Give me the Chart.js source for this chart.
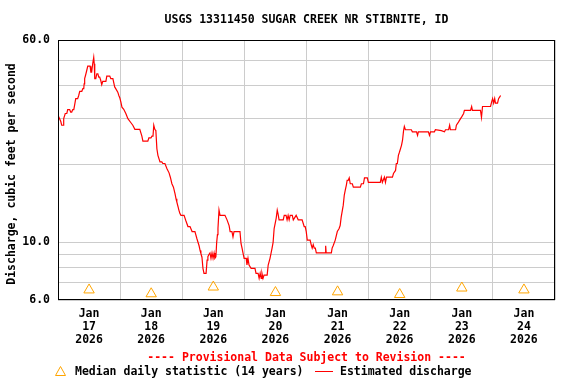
<!DOCTYPE html>
<html>
<head>
<meta charset="utf-8">
<script src="https://cdn.jsdelivr.net/npm/chart.js@4.4.1/dist/chart.umd.min.js"></script>
<style>
  html, body { margin: 0; padding: 0; background: #fff; }
</style>
</head>
<body>
<canvas id="grafica" width="576" height="384"></canvas>
<script>
const titulo = 'USGS 13311450 SUGAR CREEK NR STIBNITE, ID';
const aviso = '---- Provisional Data Subject to Revision ----';
const tituloY = 'Discharge, cubic feet per second';

// x axis: hours from Jan 17 00:00
const mes = 'Jan';
const anio = '2026';
const dias = ['17', '18', '19', '20', '21', '22', '23', '24'];

// y axis (log)
const marcasY = [6, 7, 8, 9, 10, 20, 30, 40, 50, 60];
const etiquetasY = [6, 10, 60];

// median daily statistic, one per day at noon
const horasMediana = [12, 36, 60, 84, 108, 132, 156, 180];
const mediana = [6.56, 6.34, 6.73, 6.41, 6.45, 6.30, 6.67, 6.56];

// estimated discharge
const horas = [
  0, 1.05, 1.43, 2.0, 2.2, 2.8, 3.4, 3.75, 4.5, 4.9, 5.3, 5.7, 6.1, 6.5, 6.85, 7.6, 8.0, 8.4, 9.2, 9.6,
  9.95, 10.1, 10.3, 10.7, 11.1, 11.5, 12.4, 12.7, 13.0, 13.4, 13.8, 14.0, 14.2, 14.6, 15.0, 15.4, 15.75,
  16.1, 16.5, 16.9, 17.3, 17.7, 18.5, 18.85, 20.0, 20.4, 21.2, 21.9, 22.3, 23.1, 23.5, 23.9,
  24.3, 24.7, 25.4, 26.2, 27.0, 28.1, 28.9, 29.7, 31.6, 32.4, 32.8, 34.7, 35.1, 35.9, 36.3, 36.7, 37.0,
  37.4, 37.8, 38.2, 38.6, 39.4, 40.1, 40.5, 41.3, 42.1, 42.9, 43.4, 44.0, 44.6, 45.2, 45.6, 45.9, 46.3,
  46.7, 47.1, 47.5,
  48.7, 49.4, 50.2, 51.0, 51.8, 52.9, 53.7, 54.5, 54.9, 55.2, 55.6, 56.0, 56.4, 57.2, 57.6, 57.9, 58.3,
  58.7, 59.1, 59.5, 59.9, 60.3, 60.6, 61.0, 61.3, 61.6, 61.8, 62.2, 62.6, 64.5, 65.3, 66.1, 66.5, 67.2,
  67.6, 68.0, 70.3, 70.7, 71.1, 71.5, 71.9,
  72.7, 73.0, 73.4, 73.8, 74.6, 76.1, 76.5, 77.3, 77.7, 78.1, 78.5, 78.8, 79.2, 79.6, 80.8, 81.2, 81.9,
  82.7, 83.1, 83.5, 84.3, 84.7, 85.0, 85.4, 87.0, 87.4, 88.1, 88.5, 88.9, 89.3, 89.7, 90.5, 90.9, 92.0,
  92.8, 94.3, 95.1, 95.5, 95.9,
  96.3, 97.4, 97.8, 98.2, 98.6, 99.0, 99.4, 99.8, 103.2, 103.4, 103.6, 105.6, 105.9, 106.3, 107.1, 107.9,
  108.6, 109.0, 109.4, 110.2, 110.6, 111.0, 111.4, 111.7, 112.1, 112.5, 112.9, 113.7, 114.1, 116.8, 117.2,
  118.0, 118.4, 119.5, 119.9,
  124.5, 124.9, 125.3, 126.1, 126.5, 126.9, 129.2, 129.6, 130.4, 130.7, 131.1, 131.5, 131.9, 132.7, 133.1,
  133.5, 133.8, 134.2, 136.5, 136.9, 138.5, 138.9, 139.2, 143.1, 143.5, 143.9,
  145.4, 145.8, 148.1, 149.3, 149.7, 150.9, 151.3, 151.6, 153.6, 153.9, 154.7, 155.5, 155.9, 156.7, 157.0,
  159.4, 159.8, 160.1, 163.2, 163.6, 164.0, 167.1, 167.5,
  167.9, 168.3, 168.7, 169.0, 169.8, 170.2, 170.6, 171.0
];
const caudal = [
  30.8, 29.2, 28.2, 28.2, 29.9, 31.3, 31.3, 32.4, 32.4, 31.7, 31.7, 32.4, 32.4, 34.1, 35.7, 35.7, 36.7, 38.1, 38.1, 39.0,
  39.0, 40.7, 42.6, 44.1, 45.8, 47.6, 47.6, 45.1, 45.1, 48.6, 51.5, 48.6, 42.6, 42.6, 44.5, 44.5, 43.2,
  43.2, 42.0, 40.4, 41.6, 41.6, 41.6, 43.6, 43.6, 42.6, 42.6, 39.6, 39.0, 37.8, 36.7, 35.9,
  34.6, 33.1, 32.5, 31.3, 29.9, 28.9, 28.2, 27.2, 27.2, 25.6, 24.5, 24.5, 25.2, 25.2, 25.6, 25.6, 28.2,
  27.2, 26.9, 22.9, 21.6, 20.4, 20.4, 20.1, 20.1, 19.2, 18.5, 17.8, 16.8, 16.3, 15.4, 14.7, 14.3, 13.8,
  13.3, 12.9, 12.7,
  12.7, 12.1, 11.5, 11.5, 11.0, 11.0, 10.3, 9.7, 9.3, 9.06, 8.80, 7.94, 7.60, 7.60, 8.54, 8.80, 8.98,
  9.1, 8.68, 9.1, 8.68, 9.1, 8.68, 8.8, 10.0, 10.7, 11.3, 13.3, 12.7, 12.7, 12.2, 11.6, 11.0, 11.0,
  10.5, 11.0, 11.0, 9.9, 9.5, 9.06, 8.68,
  8.68, 8.18, 8.68, 8.18, 7.94, 7.94, 7.60, 7.60, 7.27, 7.60, 7.27, 7.60, 7.27, 7.48, 7.48, 8.18, 8.68,
  9.5, 10.0, 11.3, 12.4, 13.3, 12.9, 12.2, 12.2, 12.7, 12.7, 12.2, 12.7, 12.2, 12.7, 12.7, 12.2, 12.7,
  12.2, 12.2, 11.5, 11.5, 11.0,
  10.2, 10.2, 9.8, 9.5, 9.8, 9.5, 9.5, 9.1, 9.1, 9.7, 9.1, 9.1, 9.5, 9.7, 10.2, 11.0,
  11.3, 11.6, 12.5, 13.9, 15.2, 15.9, 16.6, 17.3, 17.3, 17.7, 16.8, 16.8, 16.3, 16.3, 16.8,
  16.8, 17.7, 17.7, 17.0,
  17.0, 17.8, 17.0, 17.8, 17.0, 17.8, 17.8, 18.4, 18.9, 20.1, 20.1, 21.6, 22.2, 23.6, 24.7,
  26.9, 27.9, 27.1, 27.1, 26.6, 26.6, 25.8, 26.6, 26.6, 25.8, 26.6,
  26.6, 27.1, 26.9, 26.6, 27.1, 27.1, 28.2, 27.1, 27.1, 28.2, 29.0, 29.9, 30.3, 31.3, 32.2,
  32.2, 33.3, 32.2, 32.2, 30.2, 33.3, 33.3, 34.6,
  35.7, 34.3, 35.7, 34.3, 34.3, 35.7, 36.2, 36.7
];

const fuente = '"DejaVu Sans Mono", monospace';
const fuenteTxt = 'bold 11.5px ' + fuente;

// frame, titles, footer and legend
const marcoYTextos = {
  id: 'marcoYTextos',
  afterDraw(chart) {
    const { ctx, chartArea: a } = chart;
    ctx.save();
    ctx.strokeStyle = '#000';
    ctx.lineWidth = 1;
    const l = Math.round(a.left) + 0.5, t = Math.round(a.top) + 0.5;
    const r = Math.round(a.right) - 0.5, b = Math.round(a.bottom) - 0.5;
    ctx.strokeRect(l, t, r - l, b - t);

    const cx = (a.left + a.right) / 2;
    ctx.font = fuenteTxt;
    ctx.textBaseline = 'middle';
    ctx.textAlign = 'center';
    ctx.fillStyle = '#000';
    ctx.fillText(titulo, cx, 20);

    ctx.save();
    ctx.translate(12, 174);
    ctx.rotate(-Math.PI / 2);
    ctx.fillText(tituloY, 0, 0);
    ctx.restore();

    ctx.fillStyle = '#f00';
    ctx.fillText(aviso, cx, 358.5);

    // legend
    ctx.strokeStyle = '#FFA500';
    ctx.beginPath();
    ctx.moveTo(60.5, 366.5);
    ctx.lineTo(65.5, 375.5);
    ctx.lineTo(55.5, 375.5);
    ctx.closePath();
    ctx.stroke();
    ctx.textAlign = 'left';
    ctx.fillStyle = '#000';
    ctx.fillText('Median daily statistic (14 years)', 75, 372.5);
    ctx.strokeStyle = '#f00';
    ctx.beginPath();
    ctx.moveTo(315, 371.5);
    ctx.lineTo(333, 371.5);
    ctx.stroke();
    ctx.fillText('Estimated discharge', 340, 372.5);
    ctx.restore();
  }
};

new Chart(document.getElementById('grafica'), {
  type: 'line',
  data: {
    datasets: [{
      label: 'Estimated discharge',
      data: horas.map((h, i) => ({ x: h, y: caudal[i] })),
      borderColor: '#f00',
      borderWidth: 1.2,
      pointRadius: 0,
      tension: 0,
      fill: false
    }, {
      label: 'Median daily statistic (14 years)',
      data: horasMediana.map((h, i) => ({ x: h, y: mediana[i] })),
      showLine: false,
      pointStyle: 'triangle',
      pointRadius: 6,
      pointBorderWidth: 1,
      pointBorderColor: '#FFA500',
      pointBackgroundColor: 'rgba(0,0,0,0)',
      borderColor: '#FFA500'
    }]
  },
  options: {
    responsive: false,
    animation: false,
    layout: {
      autoPadding: false,
      padding: { left: 0, right: 21, top: 40, bottom: 24 }
    },
    plugins: {
      legend: { display: false },
      title: { display: false },
      tooltip: { enabled: false }
    },
    scales: {
      x: {
        type: 'linear',
        min: 0,
        max: 192,
        afterBuildTicks: s => {
          s.ticks = [];
          for (let h = 0; h <= 192; h += 12) s.ticks.push({ value: h });
        },
        afterFit: s => { s.height = 60; },
        border: { display: false },
        grid: {
          color: c => (c.tick && c.tick.value % 24 === 0) ? '#cccccc' : 'rgba(0,0,0,0)',
          lineWidth: 1,
          drawTicks: false
        },
        ticks: {
          autoSkip: false,
          maxRotation: 0,
          minRotation: 0,
          padding: 7.5,
          color: '#000',
          font: { family: fuente, size: 11.5, weight: 'bold', lineHeight: '13px' },
          callback: v => (v % 24 === 12) ? [mes, dias[(v - 12) / 24], anio] : ''
        }
      },
      y: {
        type: 'logarithmic',
        min: 6,
        max: 60,
        afterBuildTicks: s => { s.ticks = marcasY.map(v => ({ value: v })); },
        afterFit: s => { s.width = 58; },
        border: { display: false },
        grid: { color: '#cccccc', lineWidth: 1, drawTicks: false },
        ticks: {
          padding: 8,
          color: '#000',
          font: { family: fuente, size: 11.5, weight: 'bold' },
          callback: v => etiquetasY.includes(v) ? v.toFixed(1) : ''
        }
      }
    }
  },
  plugins: [marcoYTextos]
});
</script>
</body>
</html>
